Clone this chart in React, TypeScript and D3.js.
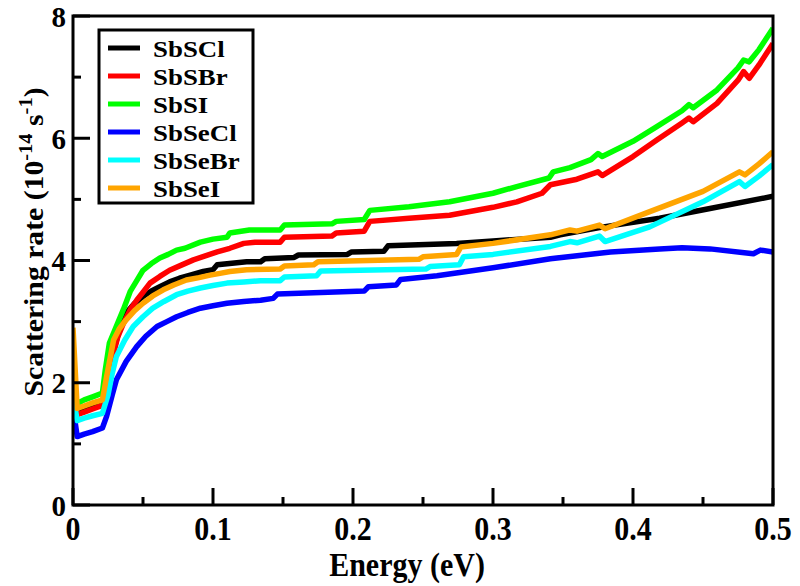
import React from "react";
import * as d3 from "d3";

type Pt = [number, number];

const SERIES_NAMES = ["SbSCl", "SbSBr", "SbSI", "SbSeCl", "SbSeBr", "SbSeI"];
const SERIES_COLORS = ["#000000", "#ff0000", "#00ff00", "#0000ff", "#00ffff", "#ffa500"];

const sbscl: Pt[] = [
  [0, 1.8], [0.003, 1.52], [0.008, 1.56], [0.014, 1.6], [0.021, 1.65], [0.024, 1.95], [0.028, 2.45],
  [0.033, 2.85], [0.038, 3.14], [0.044, 3.3], [0.05, 3.41], [0.056, 3.5], [0.062, 3.57], [0.069, 3.65],
  [0.076, 3.71], [0.085, 3.77], [0.093, 3.82], [0.1, 3.85], [0.103, 3.93], [0.124, 3.98], [0.134, 3.98],
  [0.137, 4.03], [0.158, 4.05], [0.161, 4.09], [0.196, 4.1], [0.199, 4.14], [0.222, 4.15], [0.225, 4.24],
  [0.274, 4.28], [0.3, 4.32], [0.341, 4.38], [0.348, 4.42], [0.379, 4.55], [0.419, 4.69], [0.455, 4.85],
  [0.5, 5.05],
];
const sbsbr: Pt[] = [
  [0, 1.9], [0.003, 1.48], [0.008, 1.52], [0.014, 1.57], [0.021, 1.63], [0.024, 1.9], [0.028, 2.4],
  [0.032, 2.75], [0.036, 2.97], [0.041, 3.2], [0.0455, 3.35], [0.05, 3.48], [0.055, 3.63], [0.062, 3.74],
  [0.069, 3.84], [0.077, 3.92], [0.086, 4.01], [0.095, 4.08], [0.103, 4.14], [0.112, 4.2], [0.122, 4.28],
  [0.13, 4.3], [0.148, 4.3], [0.151, 4.38], [0.185, 4.4], [0.188, 4.45], [0.208, 4.48], [0.212, 4.64],
  [0.24, 4.69], [0.269, 4.74], [0.3, 4.87], [0.317, 4.96], [0.335, 5.1], [0.341, 5.24], [0.36, 5.33],
  [0.375, 5.45], [0.378, 5.39], [0.4, 5.7], [0.417, 5.97], [0.435, 6.25], [0.44, 6.33], [0.443, 6.27],
  [0.46, 6.57], [0.475, 6.95], [0.479, 7.09], [0.483, 6.98], [0.49, 7.2], [0.5, 7.55],
];
const sbsi: Pt[] = [
  [0, 2.0], [0.003, 1.66], [0.008, 1.72], [0.014, 1.77], [0.021, 1.83], [0.023, 2.2], [0.026, 2.65],
  [0.032, 2.98], [0.036, 3.2], [0.041, 3.5], [0.045, 3.65], [0.05, 3.84], [0.056, 3.95], [0.062, 4.04],
  [0.068, 4.1], [0.074, 4.17], [0.08, 4.2], [0.091, 4.3], [0.1, 4.35], [0.11, 4.38], [0.112, 4.45],
  [0.126, 4.5], [0.148, 4.5], [0.151, 4.58], [0.185, 4.6], [0.188, 4.64], [0.208, 4.67], [0.212, 4.82],
  [0.24, 4.88], [0.269, 4.96], [0.3, 5.1], [0.317, 5.21], [0.34, 5.35], [0.343, 5.45], [0.355, 5.52],
  [0.37, 5.65], [0.375, 5.75], [0.378, 5.7], [0.4, 5.95], [0.417, 6.19], [0.435, 6.45], [0.44, 6.55],
  [0.443, 6.5], [0.46, 6.79], [0.475, 7.15], [0.479, 7.28], [0.483, 7.25], [0.49, 7.45], [0.5, 7.8],
];
const sbsecl: Pt[] = [
  [0, 1.6], [0.003, 1.12], [0.008, 1.16], [0.014, 1.2], [0.021, 1.26], [0.024, 1.45], [0.028, 1.8],
  [0.031, 2.05], [0.038, 2.35], [0.0455, 2.59], [0.052, 2.76], [0.06, 2.92], [0.067, 3.0], [0.074, 3.08],
  [0.082, 3.15], [0.091, 3.22], [0.1, 3.26], [0.11, 3.3], [0.122, 3.33], [0.134, 3.35], [0.143, 3.38],
  [0.146, 3.45], [0.208, 3.5], [0.211, 3.57], [0.231, 3.6], [0.234, 3.69], [0.26, 3.75], [0.3, 3.88],
  [0.341, 4.03], [0.384, 4.14], [0.419, 4.19], [0.435, 4.21], [0.455, 4.19], [0.486, 4.11], [0.491, 4.17],
  [0.5, 4.14],
];
const sbsebr: Pt[] = [
  [0, 1.8], [0.003, 1.38], [0.008, 1.42], [0.014, 1.46], [0.021, 1.5], [0.025, 1.8], [0.028, 2.15],
  [0.031, 2.43], [0.037, 2.7], [0.043, 2.92], [0.05, 3.08], [0.057, 3.22], [0.065, 3.33], [0.074, 3.44],
  [0.082, 3.5], [0.091, 3.55], [0.1, 3.59], [0.11, 3.63], [0.122, 3.65], [0.134, 3.67], [0.148, 3.67],
  [0.151, 3.73], [0.174, 3.75], [0.177, 3.83], [0.252, 3.86], [0.255, 3.9], [0.276, 3.93], [0.279, 4.06],
  [0.3, 4.1], [0.341, 4.23], [0.355, 4.31], [0.36, 4.29], [0.376, 4.4], [0.38, 4.31], [0.412, 4.55],
  [0.45, 4.96], [0.476, 5.29], [0.48, 5.21], [0.49, 5.38], [0.5, 5.57],
];
const sbsei: Pt[] = [
  [0, 2.9], [0.003, 1.58], [0.008, 1.62], [0.014, 1.67], [0.021, 1.72], [0.024, 2.1], [0.029, 2.7],
  [0.033, 2.88], [0.038, 3.03], [0.044, 3.18], [0.05, 3.3], [0.057, 3.42], [0.0645, 3.52], [0.072, 3.6],
  [0.081, 3.68], [0.09, 3.72], [0.098, 3.76], [0.105, 3.79], [0.112, 3.82], [0.124, 3.85], [0.148, 3.86],
  [0.151, 3.91], [0.172, 3.93], [0.175, 3.98], [0.247, 4.02], [0.25, 4.06], [0.274, 4.1], [0.277, 4.22],
  [0.3, 4.28], [0.341, 4.42], [0.355, 4.5], [0.36, 4.48], [0.376, 4.58], [0.38, 4.52], [0.412, 4.8],
  [0.45, 5.13], [0.476, 5.45], [0.48, 5.4], [0.49, 5.58], [0.5, 5.78],
];

const SERIES_DATA: Pt[][] = [sbscl, sbsbr, sbsi, sbsecl, sbsebr, sbsei];

const X_MAJOR = [0, 0.1, 0.2, 0.3, 0.4, 0.5];
const X_MAJOR_LABELS = ["0", "0.1", "0.2", "0.3", "0.4", "0.5"];
const X_MINOR = [0.05, 0.15, 0.25, 0.35, 0.45];
const Y_MAJOR = [0, 2, 4, 6, 8];
const Y_MAJOR_LABELS = ["0", "2", "4", "6", "8"];
const Y_MINOR = [1, 3, 5, 7];

const X_TITLE = "Energy (eV)";

const W = 800;
const H = 586;
const L = 73, R = 773, T = 16, B = 505;
const SY = 1.15;
const FONT_STYLE = {
  fontFamily: "'Liberation Serif', 'Tinos', 'Times New Roman', 'DejaVu Serif', serif",
  fontWeight: 700,
} as const;

export default function App() {
  const x = d3.scaleLinear().domain([0, 0.5]).range([L, R]);
  const y = d3.scaleLinear().domain([0, 8]).range([B, T]);
  const line = d3.line<Pt>().x((d) => x(d[0])).y((d) => y(d[1])).curve(d3.curveLinear);

  return (
    <div style={{ position: "fixed", left: 0, top: 0 }}>
      <svg width={W} height={H} style={{ display: "block", background: "#fff", ...FONT_STYLE }}>
        <defs>
          <clipPath id="plotclip">
            <rect x={L} y={T - 5} width={R - L} height={B - T + 5} />
          </clipPath>
        </defs>
        <rect x={0} y={0} width={W} height={H} fill="#fff" />
        <g clipPath="url(#plotclip)">
          {SERIES_DATA.map((d, i) => (
            <path key={i} d={line(d) || ""} fill="none" stroke={SERIES_COLORS[i]} strokeWidth={5.5} strokeLinejoin="round" />
          ))}
        </g>
        <rect x={L} y={T} width={R - L} height={B - T} fill="none" stroke="#000" strokeWidth={3} />
        {X_MAJOR.map((v) => (
          <line key={"xM" + v} x1={x(v)} x2={x(v)} y1={B} y2={B - 17} stroke="#000" strokeWidth={3} />
        ))}
        {X_MINOR.map((v) => (
          <line key={"xm" + v} x1={x(v)} x2={x(v)} y1={B} y2={B - 8} stroke="#000" strokeWidth={3} />
        ))}
        {Y_MAJOR.map((v) => (
          <line key={"yM" + v} x1={L} x2={L + 17} y1={y(v)} y2={y(v)} stroke="#000" strokeWidth={3} />
        ))}
        {Y_MINOR.map((v) => (
          <line key={"ym" + v} x1={L} x2={L + 8} y1={y(v)} y2={y(v)} stroke="#000" strokeWidth={3} />
        ))}
        {X_MAJOR.map((v, i) => (
          <text key={"xl" + v} transform={`translate(${x(v)},540) scale(1,${SY})`} textAnchor="middle" fontSize={30} style={FONT_STYLE}>{X_MAJOR_LABELS[i]}</text>
        ))}
        {Y_MAJOR.map((v, i) => (
          <text key={"yl" + v} x={66} y={y(v) + 10.5} textAnchor="end" fontSize={29} style={FONT_STYLE}>{Y_MAJOR_LABELS[i]}</text>
        ))}
        <text transform={`translate(407,576) scale(1,${SY})`} textAnchor="middle" fontSize={30} style={FONT_STYLE}>{X_TITLE}</text>
        <text transform={`translate(43,242) scale(1,1.08) rotate(-90)`} textAnchor="middle" fontSize={27.5} style={FONT_STYLE}>
          Scattering rate (10<tspan dy={-11} fontSize={19}>-14</tspan><tspan dy={11}> s</tspan><tspan dy={-11} fontSize={19}>-1</tspan><tspan dy={11}>)</tspan>
        </text>
        <rect x={99} y={30} width={154} height={173} fill="#fff" stroke="#000" strokeWidth={3} />
        {SERIES_NAMES.map((n, i) => (
          <g key={n}>
            <line x1={108} x2={140} y1={48 + 28 * i} y2={48 + 28 * i} stroke={SERIES_COLORS[i]} strokeWidth={5} />
            <text transform={`translate(153,${48 + 28 * i + 8.5}) scale(1.12,1)`} fontSize={24} style={FONT_STYLE}>{n}</text>
          </g>
        ))}
      </svg>
    </div>
  );
}
